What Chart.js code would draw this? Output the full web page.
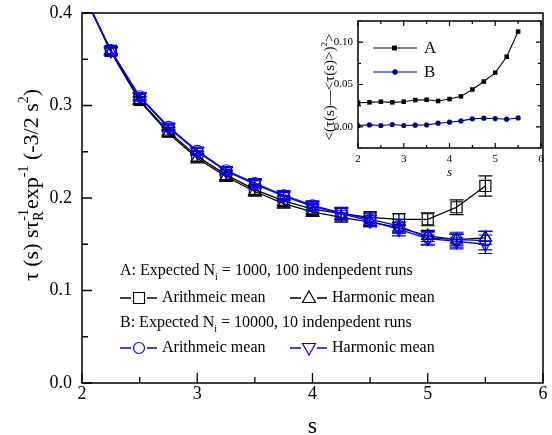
<!DOCTYPE html>
<html><head><meta charset="utf-8">
<script src="https://cdn.jsdelivr.net/npm/chart.js@4"></script>
<style>
html,body{margin:0;padding:0;background:#fff}
#wrap{position:relative;width:552px;height:435px;overflow:hidden}
canvas{position:absolute;left:0;top:0}
</style></head>
<body>
<div id="wrap"><canvas id="main" width="552" height="435"></canvas><canvas id="inset" width="552" height="435"></canvas></div>
<script>
// ---------- data ----------
const sValues   = [2, 2.25, 2.5, 2.75, 3.0, 3.25, 3.5, 3.75, 4.0, 4.25, 4.5, 4.75, 5.0, 5.25, 5.5];
const aArith    = [0.424, 0.359, 0.306, 0.272, 0.245, 0.225, 0.209, 0.197, 0.188, 0.183, 0.179, 0.177, 0.177, 0.190, 0.213];
const aArithErr = [0, 0.004, 0.004, 0.004, 0.005, 0.005, 0.005, 0.005, 0.005, 0.006, 0.006, 0.006, 0.007, 0.008, 0.011];
const aHarm     = [0.424, 0.358, 0.305, 0.270, 0.243, 0.223, 0.207, 0.194, 0.185, 0.179, 0.174, 0.168, 0.159, 0.155, 0.157];
const aHarmErr  = [0, 0.004, 0.004, 0.004, 0.005, 0.005, 0.005, 0.005, 0.005, 0.005, 0.005, 0.006, 0.006, 0.006, 0.007];
const bArith    = [0.424, 0.360, 0.310, 0.277, 0.251, 0.230, 0.216, 0.203, 0.192, 0.184, 0.177, 0.170, 0.157, 0.155, 0.154];
const bArithErr = [0, 0.004, 0.004, 0.004, 0.004, 0.004, 0.005, 0.005, 0.005, 0.006, 0.006, 0.007, 0.007, 0.008, 0.010];
const bHarm     = [0.424, 0.359, 0.309, 0.276, 0.250, 0.229, 0.215, 0.202, 0.191, 0.183, 0.175, 0.166, 0.156, 0.153, 0.150];
const bHarmErr  = [0, 0.004, 0.004, 0.004, 0.004, 0.004, 0.005, 0.005, 0.005, 0.006, 0.006, 0.007, 0.007, 0.008, 0.010];
const mainXTicks = [2, 3, 4, 5, 6];
const mainYTicks = [0.0, 0.1, 0.2, 0.3, 0.4];

const insetS = [2, 2.25, 2.5, 2.75, 3.0, 3.25, 3.5, 3.75, 4.0, 4.25, 4.5, 4.75, 5.0, 5.25, 5.5];
const insetA = [0.0285, 0.0289, 0.0297, 0.0289, 0.0297, 0.0316, 0.0320, 0.0305, 0.0328, 0.0360, 0.0441, 0.0535, 0.0640, 0.0828, 0.1125];
const insetB = [0.0016, 0.0023, 0.0016, 0.0027, 0.0016, 0.0020, 0.0023, 0.0043, 0.0055, 0.0070, 0.0094, 0.0102, 0.0098, 0.0090, 0.0105];
const insetXTicks = [2, 3, 4, 5, 6];
const insetYTicks = [0.00, 0.05, 0.10];

const SERIF = '"Liberation Serif", "Times New Roman", serif';
const BLUE = '#0000ff';
const NAVY = '#00008b';

function pts(xs, ys) { return xs.map((x, i) => ({x: x, y: ys[i]})); }
function radii(r) { return sValues.map((s, i) => i === 0 ? 0 : r); }

function drawRich(ctx, pieces, size, cx, cy) {
  const small = Math.round(size * 0.62);
  const nf = size + 'px ' + SERIF, sf = small + 'px ' + SERIF;
  let w = 0;
  const widths = pieces.map(p => {
    let pw;
    if (p.k === 'n') { ctx.font = nf; pw = ctx.measureText(p.t).width; }
    else if (p.k === 'stack') { ctx.font = sf; pw = Math.max(ctx.measureText(p.sup).width, ctx.measureText(p.sub).width); }
    else { ctx.font = sf; pw = ctx.measureText(p.t).width; }
    w += pw; return pw;
  });
  let x = cx - w / 2;
  ctx.textAlign = 'left'; ctx.textBaseline = 'alphabetic';
  const base = cy + size * 0.33;
  pieces.forEach((p, i) => {
    if (p.k === 'n') { ctx.font = nf; ctx.fillText(p.t, x, base); }
    else if (p.k === 'sup') { ctx.font = sf; ctx.fillText(p.t, x, base - size * 0.45); }
    else if (p.k === 'sub') { ctx.font = sf; ctx.fillText(p.t, x, base + size * 0.22); }
    else { ctx.font = sf; ctx.fillText(p.sup, x, base - size * 0.45); ctx.fillText(p.sub, x, base + size * 0.22); }
    x += widths[i];
  });
}

function marker(ctx, type, x, y, color) {
  ctx.save(); ctx.strokeStyle = color; ctx.lineWidth = 1.2; ctx.beginPath();
  if (type === 'sq') { ctx.rect(x - 5.5, y - 5.5, 11, 11); }
  else if (type === 'tri') { ctx.moveTo(x, y - 7); ctx.lineTo(x + 6.5, y + 4.5); ctx.lineTo(x - 6.5, y + 4.5); ctx.closePath(); }
  else if (type === 'dtri') { ctx.moveTo(x, y + 7); ctx.lineTo(x + 6.5, y - 4.5); ctx.lineTo(x - 6.5, y - 4.5); ctx.closePath(); }
  else { ctx.arc(x, y, 5.5, 0, Math.PI * 2); }
  ctx.stroke(); ctx.restore();
}

const errorBarPlugin = {
  id: 'errbars',
  afterDatasetDraw(chart, args) {
    const ds = chart.data.datasets[args.index];
    if (!ds.errors) return;
    const ctx = chart.ctx, ys = chart.scales.y, area = chart.chartArea;
    ctx.save();
    ctx.beginPath(); ctx.rect(area.left, area.top, area.right - area.left, area.bottom - area.top); ctx.clip();
    ctx.strokeStyle = ds.borderColor; ctx.lineWidth = 1.2;
    args.meta.data.forEach((pt, i) => {
      const e = ds.errors[i]; if (!e) return;
      const v = ds.data[i].y;
      const y1 = ys.getPixelForValue(v + e), y2 = ys.getPixelForValue(v - e);
      ctx.beginPath();
      ctx.moveTo(pt.x, y1); ctx.lineTo(pt.x, y2);
      ctx.moveTo(pt.x - 7, y1); ctx.lineTo(pt.x + 7, y1);
      ctx.moveTo(pt.x - 7, y2); ctx.lineTo(pt.x + 7, y2);
      ctx.stroke();
    });
    ctx.restore();
  }
};

const mainDecor = {
  id: 'mainDecor',
  afterDraw(chart) {
    const ctx = chart.ctx, a = chart.chartArea, xs = chart.scales.x, ys = chart.scales.y;
    ctx.save();
    ctx.strokeStyle = '#000'; ctx.lineWidth = 1.5;
    ctx.strokeRect(a.left, a.top, a.right - a.left, a.bottom - a.top);
    ctx.lineWidth = 1.3; ctx.beginPath();
    for (let v = 2; v <= 6.001; v += 0.5) {
      const px = xs.getPixelForValue(v); const len = Math.abs(v - Math.round(v)) < 1e-6 ? 10 : 6;
      ctx.moveTo(px, a.bottom); ctx.lineTo(px, a.bottom - len);
    }
    for (let v = 0; v <= 0.4001; v += 0.05) {
      const py = ys.getPixelForValue(v); const len = Math.abs(v * 10 - Math.round(v * 10)) < 1e-6 ? 10 : 6;
      ctx.moveTo(a.left, py); ctx.lineTo(a.left + len, py);
    }
    ctx.stroke();
    ctx.fillStyle = '#000';
    ctx.font = '24px ' + SERIF; ctx.textAlign = 'center'; ctx.textBaseline = 'alphabetic';
    ctx.fillText('s', (a.left + a.right) / 2, 433);
    ctx.save(); ctx.translate(31, 185); ctx.rotate(-Math.PI / 2);
    drawRich(ctx, [
      {k: 'n', t: 'τ (s) sτ'}, {k: 'stack', sup: '-1', sub: 'R'}, {k: 'n', t: 'exp'}, {k: 'sup', t: '-1'},
      {k: 'n', t: ' (-3/2 s'}, {k: 'sup', t: '2'}, {k: 'n', t: ')'}
    ], 22, 0, 0);
    ctx.restore();
    const lf = '16px ' + SERIF, lfs = '10px ' + SERIF;
    function richLine(x, y, parts) {
      ctx.textAlign = 'left'; ctx.textBaseline = 'middle';
      parts.forEach(p => {
        if (p[1] === 'sub') { ctx.font = lfs; ctx.fillText(p[0], x, y + 6); x += ctx.measureText(p[0]).width; }
        else { ctx.font = lf; ctx.fillText(p[0], x, y); x += ctx.measureText(p[0]).width; }
      });
    }
    ctx.fillStyle = '#000';
    richLine(120, 271, [['A: Expected N'], ['i', 'sub'], [' = 1000, 100 indenpedent runs']]);
    richLine(120, 323, [['B: Expected N'], ['i', 'sub'], [' = 10000, 10 indenpedent runs']]);
    function legItem(y, mx, type, color, label) {
      ctx.strokeStyle = color; ctx.lineWidth = 1.3; ctx.beginPath();
      ctx.moveTo(mx - 19, y); ctx.lineTo(mx - 8, y); ctx.moveTo(mx + 8, y); ctx.lineTo(mx + 18, y); ctx.stroke();
      marker(ctx, type, mx, y, color);
      ctx.fillStyle = '#000'; ctx.font = lf; ctx.textAlign = 'left'; ctx.textBaseline = 'middle';
      ctx.fillText(label, mx + 23, y);
    }
    legItem(298, 139, 'sq', '#000', 'Arithmeic mean');
    legItem(298, 309, 'tri', '#000', 'Harmonic mean');
    legItem(348, 139, 'circ', BLUE, 'Arithmeic mean');
    legItem(348, 309, 'dtri', BLUE, 'Harmonic mean');
    ctx.restore();
  }
};

function mkDS(label, ys, errs, color, style, rot, r, order) {
  return {
    label, data: pts(sValues, ys), errors: errs, borderColor: color, borderWidth: 1.3,
    pointStyle: style, pointRotation: rot, pointRadius: radii(r), pointBorderColor: color,
    pointBorderWidth: 1.2, pointBackgroundColor: 'rgba(0,0,0,0)', tension: 0, order
  };
}

new Chart(document.getElementById('main'), {
  type: 'line',
  data: {
    datasets: [
      mkDS('A arithmetic', aArith, aArithErr, '#000', 'rect', 0, 7.8, 2),
      mkDS('A harmonic', aHarm, aHarmErr, '#000', 'triangle', 0, 7, 1),
      mkDS('B arithmetic', bArith, bArithErr, BLUE, 'circle', 0, 5.5, 0),
      mkDS('B harmonic', bHarm, bHarmErr, BLUE, 'triangle', 180, 7, -1)
    ]
  },
  options: {
    responsive: false, animation: false, devicePixelRatio: 1,
    layout: {padding: {top: 13, right: 2, left: 0, bottom: 0}},
    plugins: {legend: {display: false}, tooltip: {enabled: false}},
    scales: {
      x: {
        type: 'linear', min: 2, max: 6,
        afterBuildTicks: s => { s.ticks = mainXTicks.map(v => ({value: v})); },
        afterFit: s => { s.height = 52; s.paddingLeft = 0; s.paddingRight = 0; },
        grid: {display: false, drawTicks: false}, border: {display: false},
        ticks: {font: {family: SERIF, size: 18}, color: '#000', padding: 0, maxRotation: 0, autoSkip: false, callback: v => String(v)}
      },
      y: {
        min: 0, max: 0.4,
        afterBuildTicks: s => { s.ticks = mainYTicks.map(v => ({value: v})); },
        afterFit: s => { s.width = 82; s.paddingTop = 0; s.paddingBottom = 0; },
        grid: {display: false, drawTicks: false}, border: {display: false},
        ticks: {font: {family: SERIF, size: 18}, color: '#000', padding: 10, autoSkip: false, callback: v => v.toFixed(1)}
      }
    }
  },
  plugins: [errorBarPlugin, mainDecor]
});

const insetDecor = {
  id: 'insetDecor',
  afterDraw(chart) {
    const ctx = chart.ctx, a = chart.chartArea, xs = chart.scales.x, ys = chart.scales.y;
    ctx.save();
    ctx.strokeStyle = '#000'; ctx.lineWidth = 1.5;
    ctx.strokeRect(a.left, a.top, a.right - a.left, a.bottom - a.top);
    ctx.lineWidth = 1.2; ctx.beginPath();
    for (let v = 2; v <= 6.001; v += 0.5) {
      const px = xs.getPixelForValue(v); const len = Math.abs(v - Math.round(v)) < 1e-6 ? 5 : 3;
      ctx.moveTo(px, a.bottom); ctx.lineTo(px, a.bottom - len);
      ctx.moveTo(px, a.top); ctx.lineTo(px, a.top + len);
    }
    for (let k = -1; k <= 5; k++) {
      const v = k * 0.025; const py = ys.getPixelForValue(v); const len = k % 2 === 0 ? 5 : 3;
      ctx.moveTo(a.left, py); ctx.lineTo(a.left + len, py);
      ctx.moveTo(a.right, py); ctx.lineTo(a.right - len, py);
    }
    ctx.stroke();
    ctx.fillStyle = '#000';
    ctx.font = 'italic 13px ' + SERIF; ctx.textAlign = 'center'; ctx.textBaseline = 'alphabetic';
    ctx.fillText('s', (a.left + a.right) / 2, 176);
    ctx.save(); ctx.translate(329, 87); ctx.rotate(-Math.PI / 2);
    drawRich(ctx, [{k: 'n', t: '<(τ(s)—<τ(s)>)'}, {k: 'sup', t: '2'}, {k: 'n', t: '>'}], 15, 0, 0);
    ctx.restore();
    function leg(y, color, type, label) {
      ctx.strokeStyle = color; ctx.fillStyle = color; ctx.lineWidth = 1.2; ctx.beginPath();
      ctx.moveTo(373, y); ctx.lineTo(417, y); ctx.stroke();
      ctx.beginPath();
      if (type === 'sq') ctx.rect(392, y - 2.5, 5, 5); else ctx.arc(395, y, 2.7, 0, Math.PI * 2);
      ctx.fill();
      ctx.fillStyle = '#000'; ctx.font = '17px ' + SERIF; ctx.textAlign = 'left'; ctx.textBaseline = 'middle';
      ctx.fillText(label, 424, y + 1);
    }
    leg(48, '#000', 'sq', 'A');
    leg(72, NAVY, 'circ', 'B');
    ctx.restore();
  }
};

new Chart(document.getElementById('inset'), {
  type: 'line',
  data: {
    datasets: [
      {label: 'A', data: pts(insetS, insetA), borderColor: '#000', borderWidth: 1.1, pointStyle: 'rect', pointRadius: 3.2,
       pointBackgroundColor: '#000', pointBorderColor: '#000', pointBorderWidth: 0, tension: 0},
      {label: 'B', data: pts(insetS, insetB), borderColor: NAVY, borderWidth: 1.1, pointStyle: 'circle', pointRadius: 2.6,
       pointBackgroundColor: NAVY, pointBorderColor: NAVY, pointBorderWidth: 0, tension: 0}
    ]
  },
  options: {
    responsive: false, animation: false, devicePixelRatio: 1,
    layout: {padding: {top: 21, right: 11, left: 0, bottom: 0}},
    plugins: {legend: {display: false}, tooltip: {enabled: false}},
    scales: {
      x: {
        type: 'linear', min: 2, max: 6,
        afterBuildTicks: s => { s.ticks = insetXTicks.map(v => ({value: v})); },
        afterFit: s => { s.height = 287; s.paddingLeft = 0; s.paddingRight = 0; },
        grid: {display: false, drawTicks: false}, border: {display: false},
        ticks: {font: {family: SERIF, size: 11}, color: '#000', padding: 5, maxRotation: 0, autoSkip: false, callback: v => String(v)}
      },
      y: {
        min: -0.025, max: 0.125,
        afterBuildTicks: s => { s.ticks = insetYTicks.map(v => ({value: v})); },
        afterFit: s => { s.width = 358; s.paddingTop = 0; s.paddingBottom = 0; },
        grid: {display: false, drawTicks: false}, border: {display: false},
        ticks: {font: {family: SERIF, size: 11}, color: '#000', padding: 5, autoSkip: false, callback: v => v.toFixed(2)}
      }
    }
  },
  plugins: [insetDecor]
});
</script>
</body></html>
